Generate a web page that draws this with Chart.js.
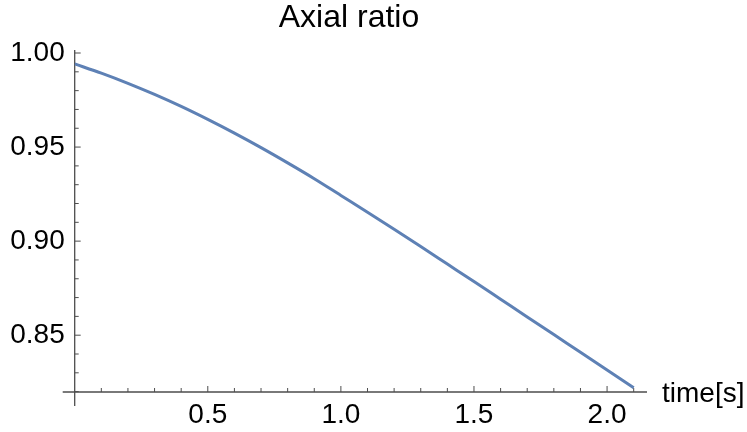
<!DOCTYPE html>
<html>
<head>
<meta charset="utf-8">
<script src="https://cdn.jsdelivr.net/npm/chart.js@4/dist/chart.umd.min.js"></script>
<style>
  html, body { margin: 0; padding: 0; background: #fff; }
  canvas { display: block; }
</style>
</head>
<body>
<canvas id="myChart" width="747" height="432"></canvas>
<script>
// data
const times = [0, 0.1, 0.2, 0.3, 0.4, 0.5, 0.6, 0.7, 0.8, 0.9, 1.0,
  1.1, 1.2, 1.3, 1.4, 1.5, 1.6, 1.7, 1.8, 1.9, 2.0, 2.1];
const axialRatio = [0.9942, 0.9893, 0.9839, 0.9780, 0.9716, 0.9647, 0.9574,
  0.9497, 0.9416, 0.9332, 0.9243, 0.9154, 0.9063, 0.8971, 0.8878, 0.8785,
  0.8691, 0.8597, 0.8503, 0.8409, 0.8315, 0.8221];
const xTicks = [0.5, 1.0, 1.5, 2.0];
const yTicks = [0.85, 0.90, 0.95, 1.00];
const chartTitle = 'Axial ratio';
const xAxisLabel = 'time[s]';

const FONT = '"Liberation Sans", Arial, Helvetica, sans-serif';
const AXIS_COLOR = '#4d4d4d';

// Mathematica-style axes: lines crossing at origin, inward ticks + minor ticks
const mathAxes = {
  id: 'mathAxes',
  beforeDatasetsDraw(chart) {
    const {ctx, chartArea, scales: {x, y}} = chart;
    const x0 = x.getPixelForValue(x.min);
    const y0 = y.getPixelForValue(y.min);
    ctx.save();
    ctx.strokeStyle = AXIS_COLOR;
    ctx.lineWidth = 1.3;
    ctx.beginPath();
    ctx.moveTo(x0 - 12, y0);
    ctx.lineTo(chartArea.right, y0);
    ctx.moveTo(x0, chartArea.top);
    ctx.lineTo(x0, y0 + 14);
    ctx.stroke();

    ctx.lineWidth = 1;
    ctx.beginPath();
    for (let i = 1; i * 0.1 <= x.max + 1e-9; i++) {
      const major = i % 5 === 0;
      const px = x.getPixelForValue(i * 0.1);
      ctx.moveTo(px, y0);
      ctx.lineTo(px, y0 - (major ? 6 : 4));
    }
    for (let i = 82; i * 0.01 <= y.max + 1e-9; i++) {
      const major = i % 5 === 0;
      const py = y.getPixelForValue(i * 0.01);
      ctx.moveTo(x0, py);
      ctx.lineTo(x0 + (major ? 6 : 4), py);
    }
    ctx.stroke();

    ctx.fillStyle = '#000';
    ctx.font = '28px ' + FONT;
    ctx.textBaseline = 'middle';
    ctx.textAlign = 'left';
    ctx.fillText(xAxisLabel, chartArea.right + 15, y0 + 2);

    ctx.font = '32px ' + FONT;
    ctx.textAlign = 'center';
    ctx.fillText(chartTitle, 349, 18);
    ctx.restore();
  },
};

const ctx = document.getElementById('myChart');

new Chart(ctx, {
  type: 'line',
  data: {
    datasets: [
      {
        data: times.map((t, i) => ({x: t, y: axialRatio[i]})),
        borderColor: '#5E81B5',
        borderWidth: 3,
        pointRadius: 0,
        cubicInterpolationMode: 'monotone',
        fill: false,
      },
    ],
  },
  options: {
    responsive: false,
    animation: false,
    devicePixelRatio: 1,
    layout: {padding: {top: 50, right: 100, left: 0, bottom: 0}},
    plugins: {legend: {display: false}, tooltip: {enabled: false}, title: {display: false}},
    scales: {
      x: {
        type: 'linear',
        min: 0,
        max: 2.15,
        grid: {display: false, drawTicks: false},
        border: {display: false},
        afterBuildTicks: (scale) => {
          scale.ticks = xTicks.map((value) => ({value}));
        },
        afterFit: (scale) => {
          scale.height = 40;
        },
        ticks: {
          padding: 6,
          maxRotation: 0,
          color: '#000',
          font: {family: FONT, size: 28},
          callback: (v) => Number(v).toFixed(1),
        },
      },
      y: {
        type: 'linear',
        min: 0.8198,
        max: 1.0016,
        grid: {display: false, drawTicks: false},
        border: {display: false},
        afterBuildTicks: (scale) => {
          scale.ticks = yTicks.map((value) => ({value}));
        },
        afterFit: (scale) => {
          scale.width = 74.7;
        },
        ticks: {
          padding: 10,
          color: '#000',
          font: {family: FONT, size: 28},
          callback: (v) => Number(v).toFixed(2),
        },
      },
    },
  },
  plugins: [mathAxes],
});
</script>
</body>
</html>
